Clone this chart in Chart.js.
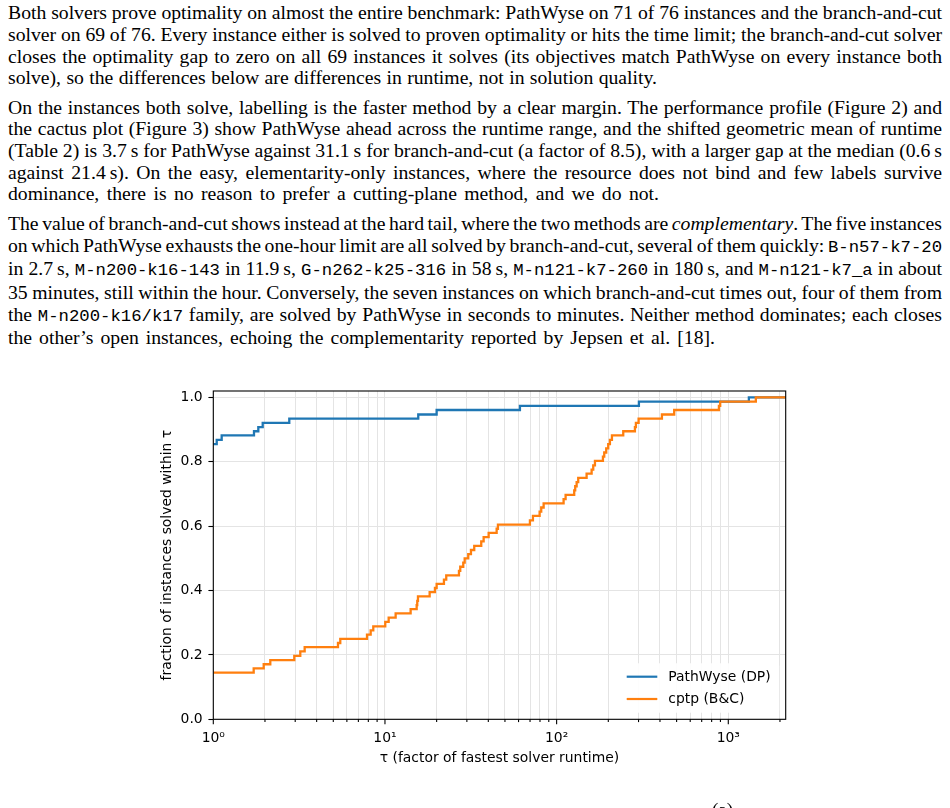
<!DOCTYPE html>
<html>
<head>
<meta charset="utf-8">
<script src="https://cdn.jsdelivr.net/npm/chart.js@4.4.0/dist/chart.umd.min.js"></script>
<style>
html,body{margin:0;padding:0;background:#fff;width:950px;height:808px;overflow:hidden;}
#text{position:absolute;left:8px;top:2.4px;width:934px;font-family:"Liberation Serif","Times New Roman",serif;font-size:19.7px;line-height:21.65px;color:#000;}
.p{margin:0 0 7.8px 0;}
.l{white-space:nowrap;text-align:left;}
code{font-family:"Liberation Mono",monospace;font-size:17.3px;}
#chartbox{position:absolute;left:0;top:360px;width:950px;height:448px;}
#frag{position:absolute;left:712px;top:801px;font-family:"Liberation Serif",serif;font-size:19px;line-height:18px;}
</style>
</head>
<body>
<div id="text">
  <div class="p">
    <div class="l">Both solvers prove optimality on almost the entire benchmark: PathWyse on 71 of 76 instances and the branch-and-cut</div>
    <div class="l">solver on 69 of 76. Every instance either is solved to proven optimality or hits the time limit; the branch-and-cut solver</div>
    <div class="l">closes the optimality gap to zero on all 69 instances it solves (its objectives match PathWyse on every instance both</div>
    <div class="l" data-w="649">solve), so the differences below are differences in runtime, not in solution quality.</div>
  </div>
  <div class="p">
    <div class="l">On the instances both solve, labelling is the faster method by a clear margin. The performance profile (Figure 2) and</div>
    <div class="l">the cactus plot (Figure 3) show PathWyse ahead across the runtime range, and the shifted geometric mean of runtime</div>
    <div class="l">(Table 2) is 3.7&thinsp;s for PathWyse against 31.1&thinsp;s for branch-and-cut (a factor of 8.5), with a larger gap at the median (0.6&thinsp;s</div>
    <div class="l">against 21.4&thinsp;s). On the easy, elementarity-only instances, where the resource does not bind and few labels survive</div>
    <div class="l" data-w="651">dominance, there is no reason to prefer a cutting-plane method, and we do not.</div>
  </div>
  <div class="p">
    <div class="l">The value of branch-and-cut shows instead at the hard tail, where the two methods are <i>complementary</i>. The five instances</div>
    <div class="l">on which PathWyse exhausts the one-hour limit are all solved by branch-and-cut, several of them quickly: <code>B-n57-k7-20</code></div>
    <div class="l">in 2.7&thinsp;s, <code>M-n200-k16-143</code> in 11.9&thinsp;s, <code>G-n262-k25-316</code> in 58&thinsp;s, <code>M-n121-k7-260</code> in 180&thinsp;s, and <code>M-n121-k7_a</code> in about</div>
    <div class="l">35 minutes, still within the hour. Conversely, the seven instances on which branch-and-cut times out, four of them from</div>
    <div class="l">the <code>M-n200-k16/k17</code> family, are solved by PathWyse in seconds to minutes. Neither method dominates; each closes</div>
    <div class="l" data-w="707">the other’s open instances, echoing the complementarity reported by Jepsen et al. [18].</div>
  </div>
</div>
<div id="chartbox"><canvas id="c"></canvas></div>
<div id="frag">(a)</div>
<script>
// ---- data ----
const seriesLabels = ['PathWyse (DP)', 'cptp (B&C)'];
const seriesColors = ['#1f77b4', '#ff7f0e'];

const tauPathWyse  = [1, 1.047, 1.119, 1.726, 1.829, 1.940, 2.771, 15.63, 20.00, 61.13, 301.5, 1318, 2160];
const fracPathWyse = [0.855, 0.868, 0.882, 0.895, 0.908, 0.921, 0.934, 0.947, 0.961, 0.974, 0.987, 1.000, 1.000];

const tauCptp = [1, 1.719, 1.966, 2.148, 2.963, 3.212, 3.406, 5.325, 5.491, 7.858, 8.256, 8.550,
  10.04, 10.51, 11.54, 14.11, 15.30, 15.42, 15.57, 18.21, 19.55, 20.00, 22.06, 22.75,
  26.98, 27.45, 28.58, 29.13, 30.56, 31.69, 33.12, 36.38, 37.57, 40.18, 44.73, 45.51,
  69.90, 72.78, 79.62, 81.34, 84.01, 109.8, 112.8, 126.6, 128.3, 130.8, 133.6, 149.5,
  159.9, 163.4, 167.2, 186.1, 189.4, 194.5, 199.8, 204.4, 210.0, 244.4, 285.8, 289.6,
  300.3, 410.6, 484.0, 881.8, 897.2, 1447, 2160];
const fracCptp = [0.145, 0.158, 0.171, 0.184, 0.197, 0.211, 0.224, 0.237, 0.250, 0.263, 0.276, 0.289,
  0.303, 0.316, 0.329, 0.342, 0.355, 0.368, 0.382, 0.395, 0.408, 0.421, 0.434, 0.447,
  0.461, 0.474, 0.487, 0.500, 0.513, 0.526, 0.539, 0.553, 0.566, 0.579, 0.592, 0.605,
  0.618, 0.632, 0.645, 0.658, 0.671, 0.684, 0.697, 0.711, 0.724, 0.737, 0.750, 0.763,
  0.776, 0.789, 0.803, 0.816, 0.829, 0.842, 0.855, 0.868, 0.882, 0.895, 0.908, 0.921,
  0.934, 0.947, 0.961, 0.974, 0.987, 1.000, 1.000];

const xMin = 1, xMax = 2160;
const yMin = 0, yMax = 1.02;
const xMajorTicks  = [1, 10, 100, 1000];
const xMajorLabels = ['10\u2070', '10\u00b9', '10\u00b2', '10\u00b3'];
const xGridTicks = [1,2,3,4,5,6,7,8,9,10,20,30,40,50,60,70,80,90,100,200,300,400,500,600,700,800,900,1000,2000];
const yTicks = [0, 0.2, 0.4, 0.6, 0.8, 1.0];
const xTitle = '\u03c4 (factor of fastest solver runtime)';
const yTitle = 'fraction of instances solved within \u03c4';

// ---- justify each text line to the column width (or to its own target width) ----
const COL_W = 934;
document.querySelectorAll('.l').forEach(el => {
  const html = el.innerHTML;
  el.innerHTML = '<span>' + html + '</span>';
  const span = el.firstChild;
  const w = span.getBoundingClientRect().width;
  const n = (span.textContent.match(/ /g) || []).length;
  const target = el.dataset.w ? Number(el.dataset.w) : COL_W;
  if (n > 0) el.style.wordSpacing = ((target - w) / n) + 'px';
});

// ---- chart ----
const FONT = 'DejaVu Sans';
const FS = 13.9;
Chart.defaults.font.family = FONT;
Chart.defaults.font.size = FS;
Chart.defaults.color = '#000';

const toPoints = (xs, ys) => xs.map((x, i) => ({x: x, y: ys[i]}));

const decorPlugin = {
  id: 'decor',
  afterDraw(chart) {
    const {ctx, chartArea: a, scales: {x}} = chart;
    ctx.save();
    ctx.strokeStyle = '#000';
    ctx.lineWidth = 1.1;
    x.ticks.forEach(t => {
      const px = x.getPixelForValue(t.value);
      const len = xMajorTicks.includes(t.value) ? 4.9 : 2.8;
      ctx.beginPath();
      ctx.moveTo(px, a.bottom);
      ctx.lineTo(px, a.bottom + len);
      ctx.stroke();
    });
    const bx1 = a.right - 165, by1 = a.bottom - 56, bx2 = a.right - 6.5, by2 = a.bottom - 6.5;
    ctx.fillStyle = 'rgba(255,255,255,0.9)';
    const r = 3;
    ctx.beginPath();
    ctx.moveTo(bx1 + r, by1);
    ctx.arcTo(bx2, by1, bx2, by2, r);
    ctx.arcTo(bx2, by2, bx1, by2, r);
    ctx.arcTo(bx1, by2, bx1, by1, r);
    ctx.arcTo(bx1, by1, bx2, by1, r);
    ctx.closePath();
    ctx.fill();
    const rows = [a.bottom - 42.6, a.bottom - 20.3];
    ctx.font = FS + 'px "' + FONT + '"';
    ctx.textBaseline = 'middle';
    ctx.textAlign = 'left';
    chart.data.datasets.forEach((ds, i) => {
      ctx.strokeStyle = ds.borderColor;
      ctx.lineWidth = 2.2;
      ctx.beginPath();
      ctx.moveTo(a.right - 159, rows[i]);
      ctx.lineTo(a.right - 128.4, rows[i]);
      ctx.stroke();
      ctx.fillStyle = '#000';
      ctx.fillText(ds.label, a.right - 117.4, rows[i] + 0.5);
    });
    ctx.strokeStyle = '#000';
    ctx.lineWidth = 1.1;
    ctx.strokeRect(a.left, a.top, a.right - a.left, a.bottom - a.top);
    ctx.restore();
  }
};

new Chart(document.getElementById('c'), {
  type: 'line',
  data: {
    datasets: [
      {label: seriesLabels[0], data: toPoints(tauPathWyse, fracPathWyse), borderColor: seriesColors[0],
       backgroundColor: seriesColors[0], borderWidth: 2.3, pointRadius: 0, stepped: true, fill: false, order: 1},
      {label: seriesLabels[1], data: toPoints(tauCptp, fracCptp), borderColor: seriesColors[1],
       backgroundColor: seriesColors[1], borderWidth: 2.3, pointRadius: 0, stepped: true, fill: false, order: 0}
    ]
  },
  options: {
    responsive: true,
    maintainAspectRatio: false,
    animation: false,
    events: [],
    layout: {padding: {left: 150, top: 31, right: 164.3, bottom: 0}},
    plugins: {legend: {display: false}, tooltip: {enabled: false}},
    scales: {
      x: {
        type: 'logarithmic',
        min: xMin, max: xMax,
        afterBuildTicks: s => { s.ticks = xGridTicks.map(v => ({value: v, major: xMajorTicks.includes(v)})); },
        afterFit: s => { s.height = 88.7; },
        border: {display: false},
        grid: {color: '#e4e4e4', lineWidth: 1, drawTicks: false},
        ticks: {
          autoSkip: false, maxRotation: 0, padding: 11, color: '#000',
          callback: (v) => { const i = xMajorTicks.indexOf(v); return i >= 0 ? xMajorLabels[i] : ''; }
        },
        title: {display: true, text: xTitle, color: '#000', padding: {top: 0, bottom: 41.7}}
      },
      y: {
        type: 'linear',
        min: yMin, max: yMax,
        afterBuildTicks: s => { s.ticks = yTicks.map(v => ({value: v})); },
        afterFit: s => { s.width = 63.3; },
        border: {display: false},
        grid: {color: '#e4e4e4', lineWidth: 1, drawTicks: true, tickLength: 4.9, tickColor: '#000', tickWidth: 1.1},
        ticks: {padding: 5.7, color: '#000', callback: v => Number(v).toFixed(1)},
        title: {display: true, text: yTitle, color: '#000', padding: {top: 8.7, bottom: 0}}
      }
    }
  },
  plugins: [decorPlugin]
});
</script>
</body>
</html>
